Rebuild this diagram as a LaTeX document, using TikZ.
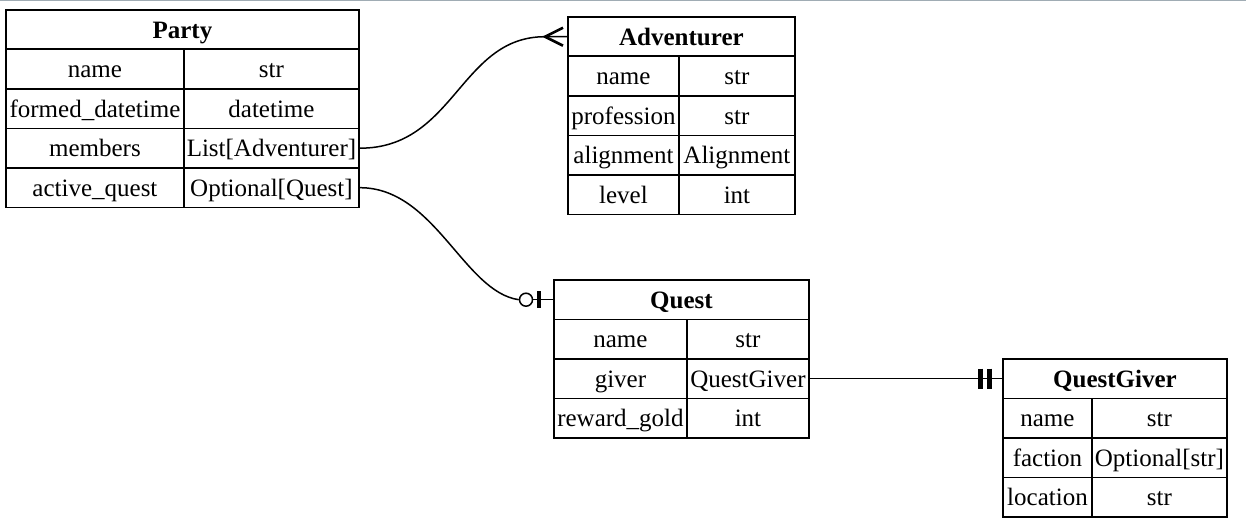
\documentclass[tikz,border=0pt]{standalone}
\usepackage{fontspec}
\setmainfont{Liberation Serif}

\tikzset{
  cell/.style={draw, line width=1.9pt, inner sep=0pt, anchor=north west,
    minimum height=39.5pt, text height=22.5pt, text depth=5.5pt,
    font=\fontsize{25}{30}\selectfont},
  title/.style={cell, font=\fontsize{25}{30}\selectfont\bfseries},
  link/.style={line width=1.5pt},
  crow/.style={line width=2.6pt},
  tick/.style={line width=4.5pt},
}

\begin{document}
\begin{tikzpicture}[x=1pt, y=-1pt]

    \useasboundingbox (0, 0) rectangle (1246, 527);
    \draw[line width=1.5pt, color={rgb,255:red,160;green,172;blue,180}] (0, 0.5) -- (1246, 0.5);

    % Party
    \node[title, minimum width=353pt] (pty-title) at (5, 9) {Party};
    \node[cell, minimum width=178pt] (pty-name) at (5, 48.5) {name};
    \node[cell, minimum width=175pt] (pty-name-t) at (183, 48.5) {str};
    \node[cell, minimum width=178pt] (pty-formed) at (5, 88) {formed\_datetime};
    \node[cell, minimum width=175pt] (pty-formed-t) at (183, 88) {datetime};
    \node[cell, minimum width=178pt] (pty-members) at (5, 127.5) {members};
    \node[cell, minimum width=175pt] (pty-members-t) at (183, 127.5) {List[Adventurer]};
    \node[cell, minimum width=178pt] (pty-quest) at (5, 167) {active\_quest};
    \node[cell, minimum width=175pt] (pty-quest-t) at (183, 167) {Optional[Quest]};

    % Adventurer
    \node[title, minimum width=227pt] (adv-title) at (567, 16) {Adventurer};
    \node[cell, minimum width=111pt] (adv-name) at (567, 55.5) {name};
    \node[cell, minimum width=116pt] (adv-name-t) at (678, 55.5) {str};
    \node[cell, minimum width=111pt] (adv-prof) at (567, 95) {profession};
    \node[cell, minimum width=116pt] (adv-prof-t) at (678, 95) {str};
    \node[cell, minimum width=111pt] (adv-align) at (567, 134.5) {alignment};
    \node[cell, minimum width=116pt] (adv-align-t) at (678, 134.5) {Alignment};
    \node[cell, minimum width=111pt] (adv-level) at (567, 174) {level};
    \node[cell, minimum width=116pt] (adv-level-t) at (678, 174) {int};

    % Quest
    \node[title, minimum width=255pt] (qst-title) at (553, 279) {Quest};
    \node[cell, minimum width=133pt] (qst-name) at (553, 318.5) {name};
    \node[cell, minimum width=122pt] (qst-name-t) at (686, 318.5) {str};
    \node[cell, minimum width=133pt] (qst-giver) at (553, 358) {giver};
    \node[cell, minimum width=122pt] (qst-giver-t) at (686, 358) {QuestGiver};
    \node[cell, minimum width=133pt] (qst-gold) at (553, 397.5) {reward\_gold};
    \node[cell, minimum width=122pt] (qst-gold-t) at (686, 397.5) {int};

    % QuestGiver
    \node[title, minimum width=224pt] (qg-title) at (1002, 358) {QuestGiver};
    \node[cell, minimum width=89pt] (qg-name) at (1002, 397.5) {name};
    \node[cell, minimum width=135pt] (qg-name-t) at (1091, 397.5) {str};
    \node[cell, minimum width=89pt] (qg-faction) at (1002, 437) {faction};
    \node[cell, minimum width=135pt] (qg-faction-t) at (1091, 437) {Optional[str]};
    \node[cell, minimum width=89pt] (qg-loc) at (1002, 476.5) {location};
    \node[cell, minimum width=135pt] (qg-loc-t) at (1091, 476.5) {str};

    % members -> Adventurer (many)
    \coordinate (adv-crow) at ([xshift=-22pt]adv-title.west);
    \draw[link] (pty-members-t.east) .. controls +(95, 0) and +(-85, 0) .. (adv-crow) -- (adv-title.west);
    \draw[crow] ([xshift=-4pt, yshift=9pt]adv-title.west) -- (adv-crow) -- ([xshift=-4pt, yshift=-9pt]adv-title.west);

    % active_quest -> Quest (zero or one)
    \node[circle, draw, link, minimum size=13pt, inner sep=0pt] (qst-zero) at ([xshift=-27pt]qst-title.west) {};
    \draw[link] (pty-quest-t.east) .. controls +(75, 0) and +(-55, -8) .. (qst-zero.west);
    \draw[link] (qst-zero.east) -- (qst-title.west);
    \draw[tick, line width=3.8pt] ([xshift=-14pt, yshift=8.5pt]qst-title.west) -- ([xshift=-14pt, yshift=-8.5pt]qst-title.west);

    % giver -> QuestGiver (exactly one)
    \draw[link] (qst-giver-t.east) -- (qg-title.west);
    \draw[tick] ([xshift=-21.5pt, yshift=10pt]qg-title.west) -- ([xshift=-21.5pt, yshift=-10pt]qg-title.west);
    \draw[tick] ([xshift=-12.5pt, yshift=10pt]qg-title.west) -- ([xshift=-12.5pt, yshift=-10pt]qg-title.west);

\end{tikzpicture}
\end{document}
